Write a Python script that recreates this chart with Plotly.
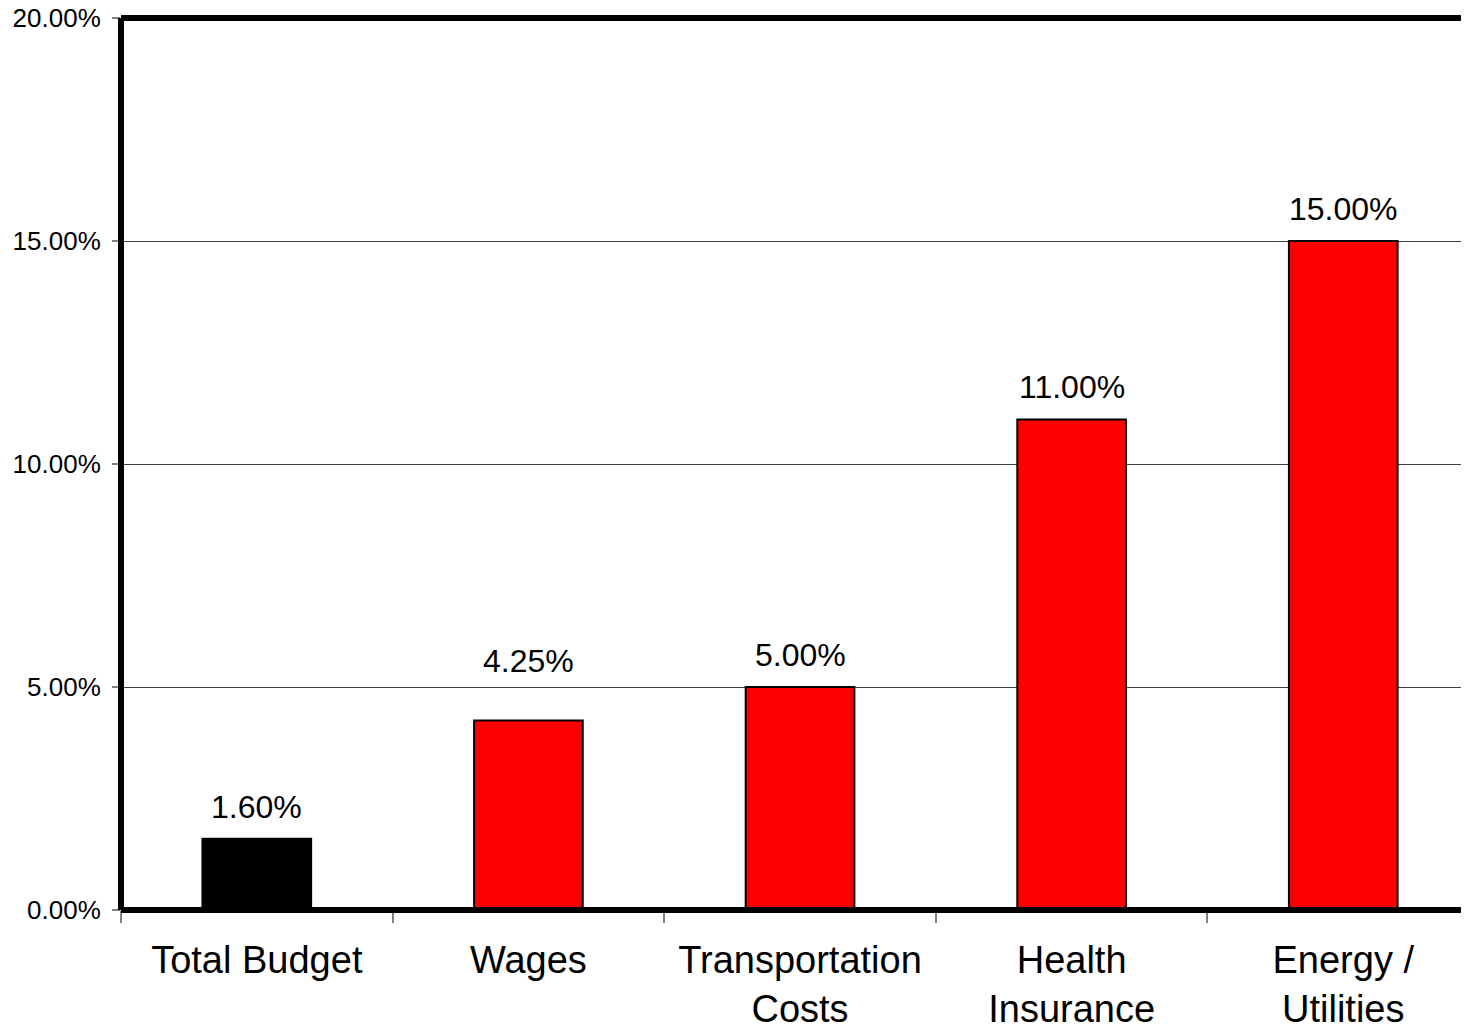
import plotly.graph_objects as go

categories = ["Total Budget", "Wages", "Transportation<br>Costs", "Health<br>Insurance", "Energy /<br>Utilities"]
values = [0.016, 0.0425, 0.05, 0.11, 0.15]
colors = ["#000000", "#ff0000", "#ff0000", "#ff0000", "#ff0000"]
label_shift = [32, 59, 32, 32, 32]
y_ticks = [0, 0.05, 0.10, 0.15, 0.20]

FONT = "Liberation Sans, Arial, sans-serif"

fig = go.Figure()
fig.add_trace(go.Bar(
    x=categories, y=values, width=0.4,
    marker=dict(color=colors, line=dict(color="#000000", width=2)),
    hoverinfo="skip",
))

for c, v, s in zip(categories, values, label_shift):
    fig.add_annotation(x=c, y=v, yshift=s, text=f"{v*100:.2f}%", showarrow=False,
                       font=dict(family=FONT, size=32, color="#000"),
                       yanchor="middle", xanchor="center")

# frame lines (left, bottom, top) centred on the plot-area edges
for x0, y0, x1, y1 in [(0, 0, 0, 1), (0, 0, 1, 0), (0, 1, 1, 1)]:
    fig.add_shape(type="line", xref="paper", yref="paper", x0=x0, y0=y0, x1=x1, y1=y1,
                  line=dict(color="#000", width=6), layer="above")

fig.update_layout(
    width=1461, height=1021,
    margin=dict(l=113, r=0, t=10, b=119, autoexpand=False),
    paper_bgcolor="white", plot_bgcolor="white",
    showlegend=False,
    font=dict(family=FONT, color="#000"),
)
fig.update_xaxes(
    range=[-0.5, 4.463], automargin=False,
    showline=False,
    ticks="outside", tickson="boundaries", ticklen=12, tickcolor="#808080", tickwidth=1.5,
    tickfont=dict(size=38, family=FONT, color="#000"),
    ticklabelstandoff=24,
    showgrid=False,
)
fig.update_yaxes(
    range=[0, 0.20], tickvals=y_ticks, tickformat=".2%", automargin=False,
    showline=False,
    ticks="outside", ticklen=8, tickcolor="#808080", tickwidth=1.5,
    tickfont=dict(size=26, family=FONT, color="#000"),
    ticklabelstandoff=6, ticklabeloverflow="allow",
    showgrid=True, gridcolor="#404040", gridwidth=1,
    zeroline=False,
)

fig.write_html("out.html")
